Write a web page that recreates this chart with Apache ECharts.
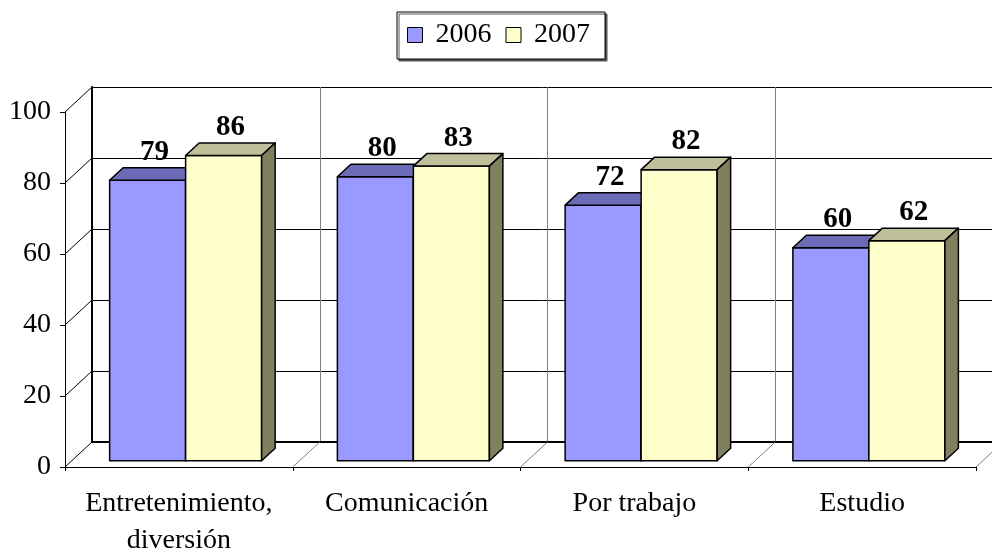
<!DOCTYPE html>
<html>
<head>
<meta charset="utf-8">
<script src="https://cdn.jsdelivr.net/npm/echarts@6/dist/echarts.min.js"></script>
<style>
  html, body { margin: 0; padding: 0; background: #fff; }
  #chart { width: 992px; height: 554px; }
</style>
</head>
<body>
<div id="chart"></div>
<script>
const categories = ["Entretenimiento,\ndiversión", "Comunicación", "Por trabajo", "Estudio"]
const years = ["2006", "2007"]
const values2006 = [79, 80, 72, 60]
const values2007 = [86, 83, 82, 62]
const yTicks = [0, 20, 40, 60, 80, 100]
const boundaries = [1, 2, 3, 4]

const FONT = "Liberation Serif, Times New Roman, serif"

// depth of the 3D box (back wall offset) and bar placement inside it
const DX = 27
const DY = -25
const BAR_W = 76

const faces = [
  { front: "#9999FF", top: "#6B6BB8", side: "#4D4D80" },
  { front: "#FFFFCC", top: "#BFBF99", side: "#80805F" },
]

const chart = echarts.init(document.getElementById("chart"))

function barRender(s) {
  return (params, api) => {
    const idx = api.value(0)
    const v = api.value(1)
    const top = api.coord([idx, v])
    const base = api.coord([idx, 0])
    const sx = DX * 0.25, sy = DY * 0.25
    const dx = DX * 0.5, dy = DY * 0.5
    const cx = top[0] + sx
    const xl = cx + (s - 1) * BAR_W
    const xr = xl + BAR_W
    const yt = top[1] + sy
    const yb = base[1] + sy
    const f = faces[s]
    const ls = { stroke: "#000", lineWidth: 1.5, lineJoin: "round" }
    return {
      type: "group",
      children: [
        { type: "rect", shape: { x: xl, y: yt, width: BAR_W, height: yb - yt },
          style: Object.assign({ fill: f.front }, ls) },
        { type: "polygon", shape: { points: [[xl, yt], [xr, yt], [xr + dx, yt + dy], [xl + dx, yt + dy]] },
          style: Object.assign({ fill: f.top }, ls) },
        { type: "polygon", shape: { points: [[xr, yt], [xr + dx, yt + dy], [xr + dx, yb + dy], [xr, yb]] },
          style: Object.assign({ fill: f.side }, ls) },
        { type: "text", x: cx + (s - 0.5) * BAR_W + dx / 2, y: yt + dy - 1,
          style: { text: String(v), fill: "#000", font: "bold 29px " + FONT, align: "center", verticalAlign: "bottom" } },
      ],
    }
  }
}

const option = {
  animation: false,
  legend: {
    data: years.map((y, i) => ({ name: y, icon: "rect", itemStyle: { color: faces[i].front, borderColor: "#000", borderWidth: 1 } })),
    left: 397,
    top: 12,
    padding: [9, 15, 10, 10],
    itemWidth: 15,
    itemHeight: 15,
    itemGap: 14,
    borderColor: "#000",
    borderWidth: 1,
    backgroundColor: "#fff",
    shadowColor: "#555",
    shadowOffsetX: 2,
    shadowOffsetY: 2,
    shadowBlur: 0,
    textStyle: { fontFamily: FONT, fontSize: 28, color: "#000", padding: [0, 0, 0, 8] },
    selectedMode: false,
  },
  grid: [
    { left: 65, top: 112, width: 911, height: 355, outerBoundsMode: "none" },
    { left: 65 + DX, top: 112 + DY, width: 911, height: 355, outerBoundsMode: "none" },
  ],
  xAxis: [
    {
      gridIndex: 0, type: "category", data: categories,
      axisLine: { show: true, lineStyle: { color: "#000", width: 1 } },
      axisTick: { show: true, length: 4, lineStyle: { color: "#000" } },
      axisLabel: { interval: 0, fontFamily: FONT, fontSize: 28, color: "#000", margin: 18, lineHeight: 37 },
      splitLine: { show: false },
    },
    {
      gridIndex: 1, type: "category", data: categories,
      axisLine: { show: true, lineStyle: { color: "#000", width: 2 } },
      axisTick: { show: false },
      axisLabel: { show: false },
      splitLine: { show: true, interval: 0, lineStyle: { color: "#808080", width: 1 } },
    },
  ],
  yAxis: [
    {
      gridIndex: 0, type: "value", min: 0, max: 100, interval: 20,
      axisLine: { show: true, lineStyle: { color: "#000", width: 1 } },
      axisTick: { show: true, length: 5, lineStyle: { color: "#000" } },
      axisLabel: { fontFamily: FONT, fontSize: 28, color: "#000", margin: 14 },
      splitLine: { show: false },
    },
    {
      gridIndex: 1, type: "value", min: 0, max: 100, interval: 20,
      axisLine: { show: true, lineStyle: { color: "#000", width: 2 } },
      axisTick: { show: false },
      axisLabel: { show: false },
      splitLine: { show: true, lineStyle: { color: "#000", width: 1 } },
    },
  ],
  series: [
    {
      // side wall diagonals
      type: "custom", name: "wall", xAxisIndex: 0, yAxisIndex: 0, silent: true, z: 1,
      data: yTicks.map(v => [0, v]),
      renderItem: (params, api) => {
        const x = params.coordSys.x
        const y = api.coord([0, api.value(1)])[1]
        return { type: "line", shape: { x1: x, y1: y, x2: x + DX, y2: y + DY }, style: { stroke: "#000", lineWidth: 1 } }
      },
    },
    {
      // floor diagonals
      type: "custom", name: "floor", xAxisIndex: 0, yAxisIndex: 0, silent: true, z: 1,
      data: boundaries.map(b => [b, 0]),
      renderItem: (params, api) => {
        const band = api.size([1, 0])[0]
        const x = params.coordSys.x + api.value(0) * band
        const y = params.coordSys.y + params.coordSys.height
        return { type: "line", shape: { x1: x, y1: y, x2: x + DX, y2: y + DY }, style: { stroke: "#808080", lineWidth: 1 } }
      },
    },
    {
      type: "custom", name: "2006", xAxisIndex: 0, yAxisIndex: 0, z: 3,
      itemStyle: { color: faces[0].front },
      data: values2006.map((v, i) => [i, v]),
      renderItem: barRender(0),
    },
    {
      type: "custom", name: "2007", xAxisIndex: 0, yAxisIndex: 0, z: 4,
      itemStyle: { color: faces[1].front },
      data: values2007.map((v, i) => [i, v]),
      renderItem: barRender(1),
    },
  ],
}

chart.setOption(option)
</script>
</body>
</html>
